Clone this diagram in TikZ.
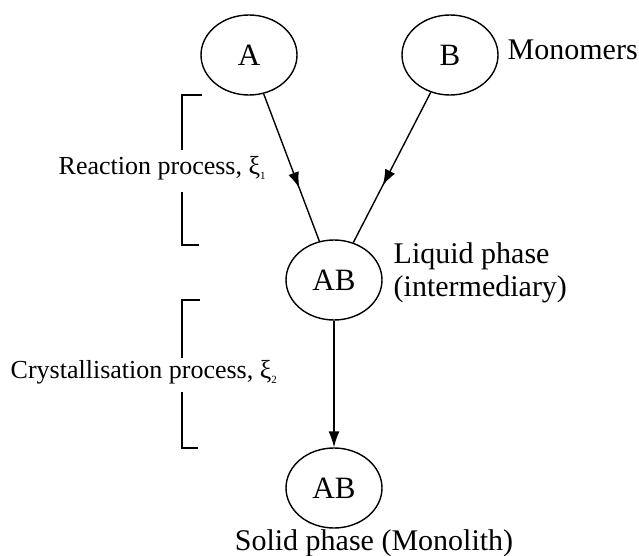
\documentclass[tikz,border=0pt]{standalone}
\usepackage{fontspec}
\setmainfont{Liberation Serif}
\usetikzlibrary{shapes.geometric,arrows.meta,decorations.markings,positioning}
\tikzset{
  stato/.style={ellipse,draw,line width=1.4pt,minimum width=96pt,minimum height=80pt,inner sep=0pt,font=\fontsize{31}{31}\selectfont},
  etichetta/.style={inner sep=0pt,font=\fontsize{30}{33}\selectfont},
  processo/.style={inner sep=0pt,font=\fontsize{26}{28}\selectfont},
  punta/.style={postaction={decorate},decoration={markings,mark=at position #1 with {\arrow{Latex[length=16pt,width=11pt]}}}},
}
\newcommand{\pedice}[1]{\raisebox{-5pt}{\fontsize{11}{11}\selectfont #1}}
\begin{document}
\begin{tikzpicture}[x=1pt,y=-1pt,line width=1.4pt]
  \useasboundingbox (0,0) rectangle (639,556);
  \node[stato] (A) at (249,55) {A};
  \node[stato] (B) at (450,55) {B};
  \node[stato] (AB) at (334,280) {AB};
  \node[stato] (ABs) at (334,488) {AB};
  \node[etichetta,anchor=west] (mono) at (507,50) {Monomers};
  \node[etichetta,anchor=west,align=left] (liq) at (393,273) {Liquid phase\\(intermediary)};
  \node[etichetta,anchor=base] (sol) at (374,550) {Solid phase (Monolith)};
  \node[processo,anchor=base west] (reaz) at (58,175) {Reaction process, ξ\pedice{1}};
  \node[processo,anchor=base west] (crist) at (10,378) {Crystallisation process, ξ\pedice{2}};
  % frecce con punta a metà linea
  \draw[punta=0.64] (A) -- (AB);
  \draw[punta=0.62] (B) -- (AB);
  \draw[-{Latex[length=16pt,width=11pt]}] (AB) -- (ABs);
  % parentesi a sinistra
  \draw[line width=1.2pt] (202,95) -- (182,95) -- (182,150) (182,192) -- (182,245) -- (199,245);
  \draw[line width=1.2pt] (200,300) -- (182,300) -- (182,358) (182,392) -- (182,448) -- (198,448);
\end{tikzpicture}
\end{document}
